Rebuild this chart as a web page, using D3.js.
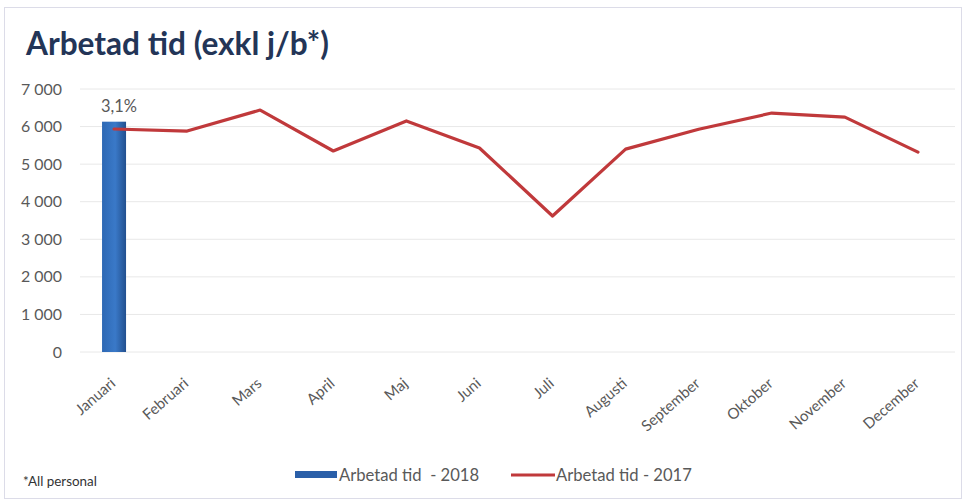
<!DOCTYPE html>
<html><head><meta charset="utf-8">
<script src="https://cdn.jsdelivr.net/npm/d3@7"></script>
<style>body{margin:0;background:#fff}svg{display:block}</style>
</head><body><svg id="c" width="965" height="501"></svg>
<script>
const months = ["Januari","Februari","Mars","April","Maj","Juni","Juli","Augusti","September","Oktober","November","December"];
const values2018 = [6130];
const values2017 = [5935,5880,6440,5350,6150,5430,3620,5400,5930,6360,6250,5320];
const barLabels = ["3,1%"];
const yTicks = [0,1000,2000,3000,4000,5000,6000,7000];

const svg = d3.select("#c");
const font = "Lato, 'Open Sans', sans-serif";

// size a font so a sample string spans a target width
function fitSize(sample, target, weight){
  const t = svg.append("text").attr("font-family",font).attr("font-size",20)
    .attr("font-weight",weight||"normal").attr("xml:space","preserve").text(sample);
  const w = t.node().getComputedTextLength(); t.remove();
  return 20*target/w;
}

svg.append("rect").attr("x",4.5).attr("y",7.5).attr("width",957).attr("height",491)
  .attr("fill","#fff").attr("stroke","#dcdce8");

const x = d3.scaleBand().domain(months).range([77.5,954.5]);
const y = d3.scaleLinear().domain([0,7000]).range([352,89]);
const cx = m => x(m)+x.bandwidth()/2;

// title
svg.append("text").attr("x",26).attr("y",55).attr("fill","#233557")
  .attr("font-family",font).attr("font-weight","bold")
  .attr("font-size",fitSize("Arbetad tid (exkl j/b*)",303,"bold"))
  .text("Arbetad tid (exkl j/b*)");

// grid
svg.append("g").selectAll("line").data(yTicks).join("line")
  .attr("x1",80).attr("x2",955).attr("y1",d=>y(d)).attr("y2",d=>y(d))
  .attr("stroke","#e8e8e8").attr("stroke-width",1);

// y axis
const ySize = fitSize("7 000",41);
const yAxis = d3.axisLeft(y).tickValues(yTicks).tickSize(0).tickPadding(0)
  .tickFormat(d=>d3.format(",")(d).replace(/,/g," "));
const ya = svg.append("g").attr("transform","translate(62,0)").call(yAxis);
ya.select(".domain").remove();
ya.selectAll("text").attr("font-family",font).attr("font-size",ySize).attr("fill","#595959");

// x axis
const xSize = fitSize("September",72);
const xAxis = d3.axisBottom(x).tickSize(0).tickPadding(0);
const xa = svg.append("g").attr("transform","translate(0,0)").call(xAxis);
xa.select(".domain").remove();
xa.selectAll(".tick").attr("transform",d=>`translate(${cx(d)-1},381)`);
xa.selectAll("text").attr("font-family",font).attr("font-size",xSize).attr("fill","#595959")
  .attr("text-anchor","end").attr("y",0).attr("dy","0.35em")
  .attr("transform","rotate(-41)");

// gradient
const defs = svg.append("defs");
const g = defs.append("linearGradient").attr("id","bg").attr("x1",0).attr("x2",1).attr("y1",0).attr("y2",0);
g.append("stop").attr("offset","0%").attr("stop-color","#2d68b4");
g.append("stop").attr("offset","55%").attr("stop-color","#3a79c8");
g.append("stop").attr("offset","100%").attr("stop-color","#22508f");

const bw = 24;
svg.append("g").selectAll("rect").data(values2018).join("rect")
  .attr("x",(d,i)=>cx(months[i])-bw/2).attr("width",bw)
  .attr("y",d=>y(d)).attr("height",d=>y(0)-y(d)).attr("fill","url(#bg)");
svg.append("g").selectAll("text").data(values2018).join("text")
  .attr("x",(d,i)=>cx(months[i])+5).attr("y",d=>y(d)-10)
  .attr("text-anchor","middle").attr("font-family",font).attr("font-size",fitSize("3,1%",36)).attr("fill","#595959")
  .text((d,i)=>barLabels[i]);

// line
const line = d3.line().x((d,i)=>cx(months[i])).y(d=>y(d));
svg.append("path").datum(values2017).attr("d",line).attr("fill","none")
  .attr("stroke","#c0393b").attr("stroke-width",3.2).attr("stroke-linejoin","round").attr("stroke-linecap","round");

// legend
const lSize = fitSize("Arbetad tid - 2017",136);
svg.append("rect").attr("x",295).attr("y",471).attr("width",42).attr("height",7).attr("fill","#2a5fa8");
svg.append("text").attr("x",339).attr("y",475).attr("dy","0.35em").attr("font-family",font).attr("font-size",lSize).attr("fill","#595959")
  .attr("xml:space","preserve").text("Arbetad tid  - 2018");
svg.append("line").attr("x1",511).attr("x2",555).attr("y1",475).attr("y2",475).attr("stroke","#c0393b").attr("stroke-width",3);
svg.append("text").attr("x",556).attr("y",475).attr("dy","0.35em").attr("font-family",font).attr("font-size",lSize).attr("fill","#595959")
  .text("Arbetad tid - 2017");

svg.append("text").attr("x",23).attr("y",486).attr("font-family",font).attr("font-size",fitSize("*All personal",74)).attr("fill","#333")
  .text("*All personal");
</script></body></html>
